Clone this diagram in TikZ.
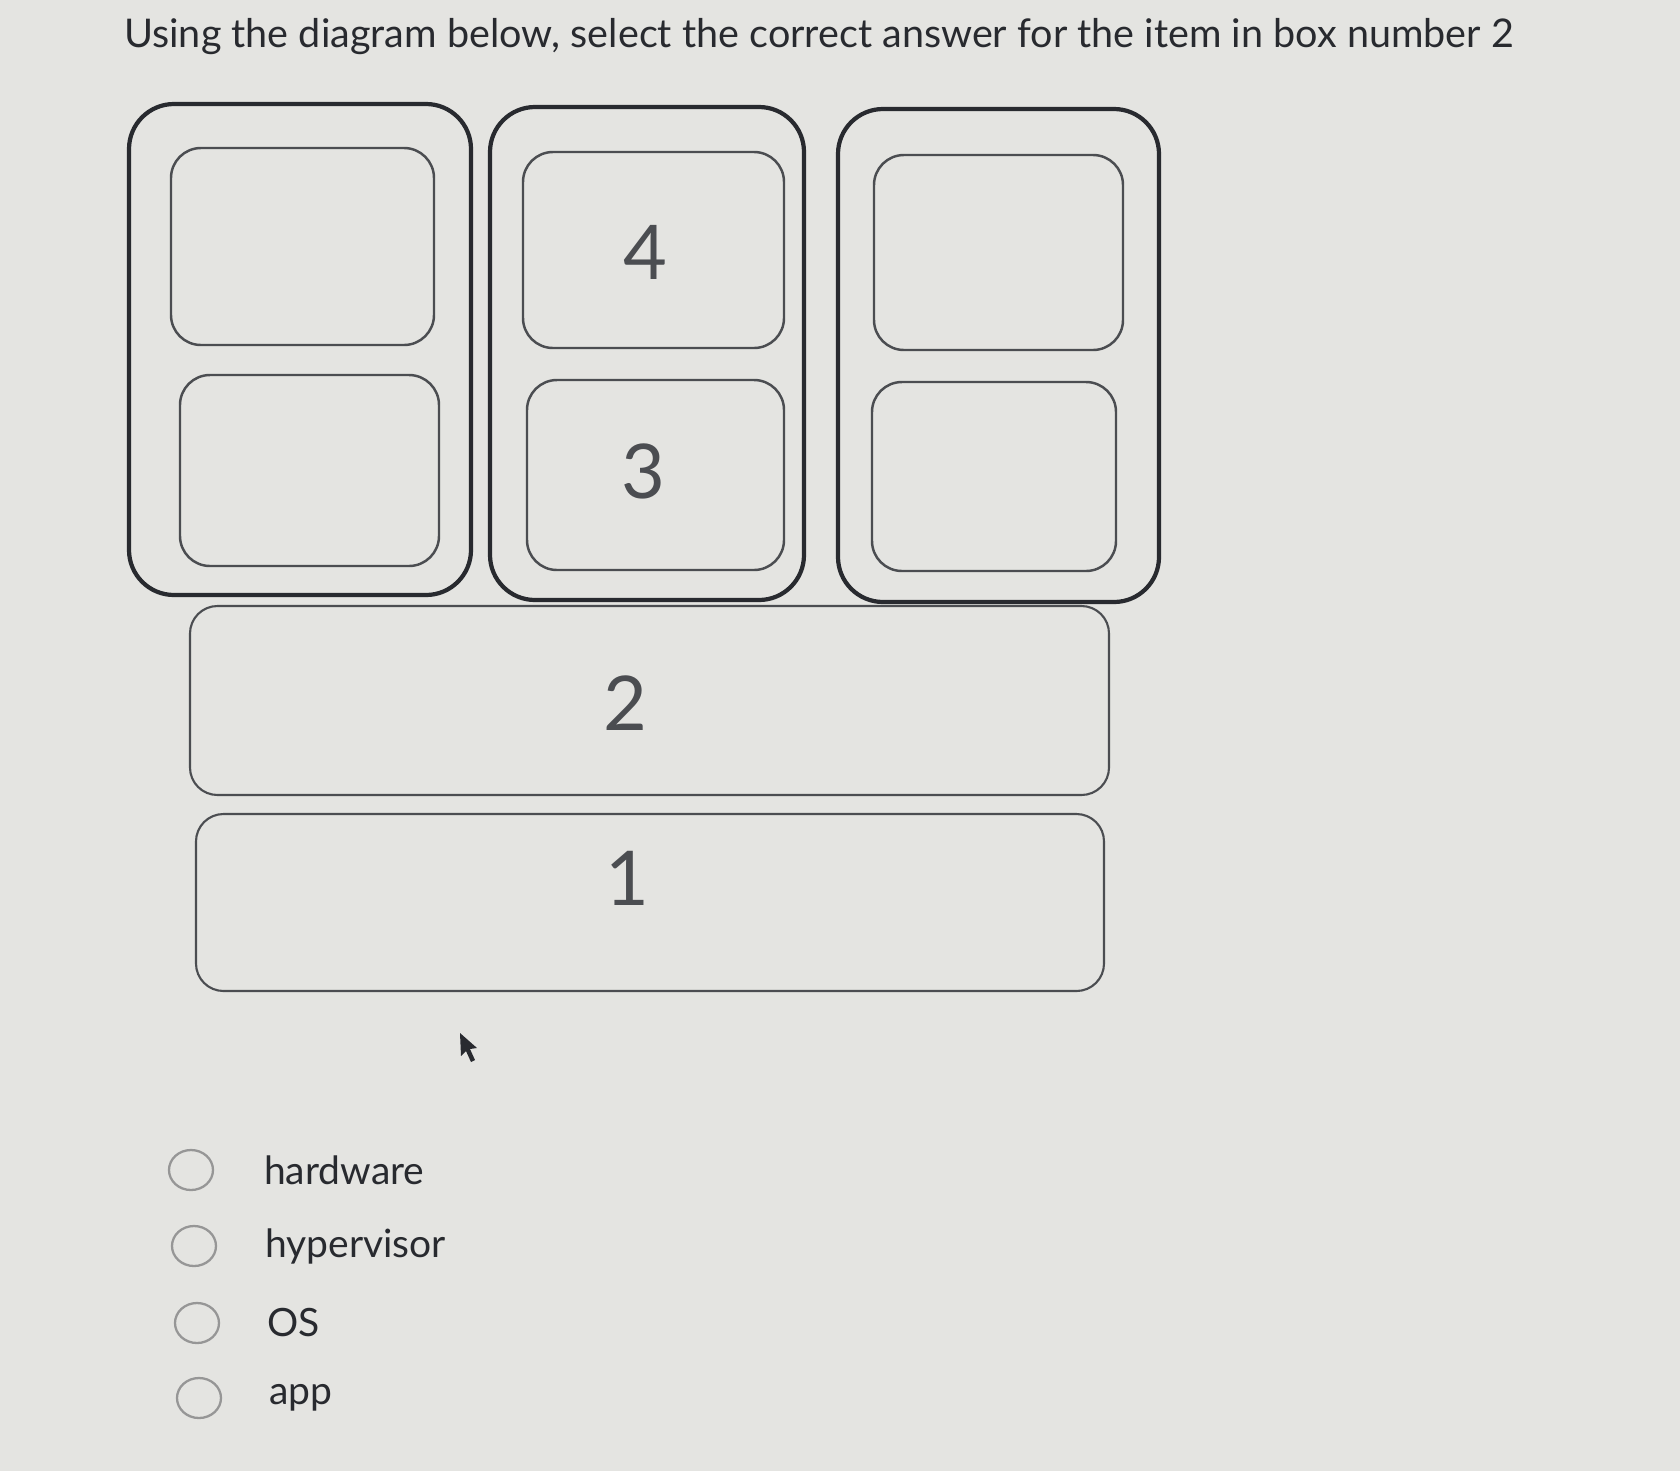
\documentclass[tikz,border=0pt]{standalone}
\usepackage{fontspec}
\setmainfont{Lato}
\definecolor{screenbg}{RGB}{228,228,225}
\definecolor{inkdark}{RGB}{40,42,47}
\definecolor{inkgray}{RGB}{75,77,81}
\definecolor{radiogray}{RGB}{150,150,150}
\begin{document}
\begin{tikzpicture}[x=0.02cm, y=-0.02cm,
    outerbox/.style={draw=inkdark, line width=2.4pt, rounded corners=0.9cm},
    innerbox/.style={draw=inkgray, line width=1.4pt, rounded corners=0.6cm},
    widebox/.style={draw=inkgray, line width=1.2pt, rounded corners=0.55cm},
    numlabel/.style={text=inkgray, font=\fontsize{43}{48}\selectfont},
    answer/.style={text=inkdark, anchor=west, font=\fontsize{22.2}{26}\selectfont},
    radio/.style={draw=radiogray, line width=1.3pt}]
            % background
            \fill[screenbg] (0,0) rectangle (1680,1471);
            \useasboundingbox (0,0) rectangle (1680,1471);

            % question
            \node[anchor=west, text=inkdark, font=\fontsize{22.5}{27}\selectfont] (question) at (118,37)
                {Using the diagram below, select the correct answer for the item in box number 2};

            % three outer boxes
            \draw[outerbox] (129,104) rectangle (471,595);
            \draw[outerbox] (490,107) rectangle (804,600);
            \draw[outerbox] (838,109) rectangle (1159,602);

            % inner boxes
            \draw[innerbox] (171,148) rectangle (434,345);
            \draw[innerbox] (180,375) rectangle (439,566);
            \draw[innerbox] (523,152) rectangle (784,348);
            \draw[innerbox] (527,380) rectangle (784,570);
            \draw[innerbox] (874,155) rectangle (1123,350);
            \draw[innerbox] (872,382) rectangle (1116,571);

            % wide boxes
            \draw[widebox] (190,606) rectangle (1109,795);
            \draw[widebox] (196,814) rectangle (1104,991);

            % box numbers
            \node[numlabel] (num4) at (645,252) {4};
            \node[numlabel] (num3) at (643,471) {3};
            \node[numlabel] (num2) at (625,703) {2};
            \node[numlabel] (num1) at (627,878) {1};

            % mouse pointer
            \fill[inkdark] (460,1033) -- (461,1056) -- (466,1051) -- (471,1062) -- (475,1060)
                -- (470,1049) -- (477,1048) -- cycle;

            % answer options
            \draw[radio] (191,1170) ellipse (22 and 20);
            \draw[radio] (194,1246) ellipse (22 and 20);
            \draw[radio] (197,1323) ellipse (22 and 20);
            \draw[radio] (199,1398) ellipse (22 and 20);
            \node[answer] (hardware) at (258,1170) {hardware};
            \node[answer] (hypervisor) at (259,1246) {hypervisor};
            \node[answer] (os) at (261,1323) {OS};
            \node[answer] (app) at (263,1398) {app};
        \end{tikzpicture}
\end{document}
